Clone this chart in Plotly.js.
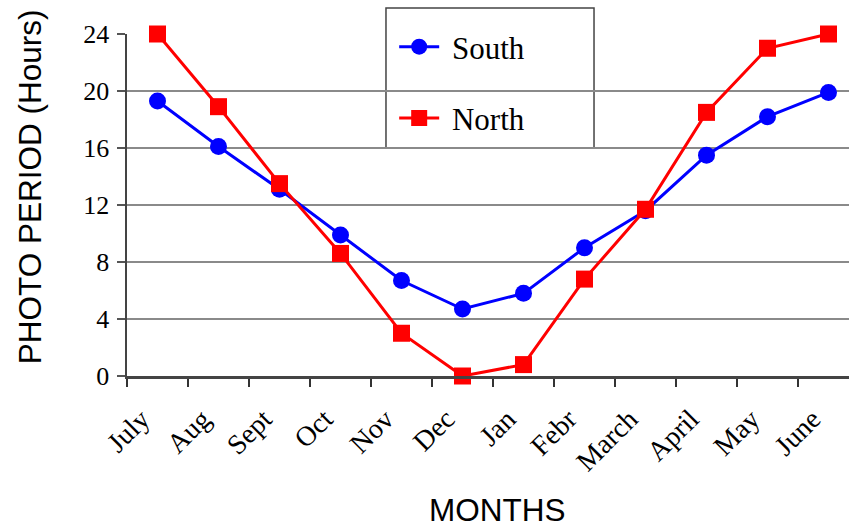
<!DOCTYPE html>
<html>
<head>
<meta charset="utf-8">
<script src="https://cdn.plot.ly/plotly-3.0.1.min.js"></script>
<style>
html,body{margin:0;padding:0;overflow:hidden;background:#fff;width:849px;height:530px;}
#chart{width:859px;height:530px;}
</style>
</head>
<body>
<div id="chart"></div>
<script>
const months = ["July","Aug","Sept","Oct","Nov","Dec","Jan","Febr","March","April","May","June"];
const south = [19.3, 16.1, 13.1, 9.9, 6.7, 4.7, 5.8, 9.0, 11.6, 15.5, 18.2, 19.9];
const north = [24.0, 18.9, 13.5, 8.6, 3.0, 0.0, 0.8, 6.8, 11.7, 18.5, 23.0, 24.0];
const yTicks = [0, 4, 8, 12, 16, 20, 24];
const seriesNames = ["South", "North"];
const xTitle = "MONTHS";
const yTitle = "PHOTO PERIOD (Hours)";

const serif = "Liberation Serif, Times New Roman, serif";
const sans = "Liberation Sans, Arial, sans-serif";

const traces = [
  {
    x: months, y: south, name: "\u00a0" + seriesNames[0], type: "scatter", mode: "lines+markers",
    legendgroup: "s",
    line: {color: "#0000ff", width: 3},
    marker: {symbol: "circle", size: 17, color: "#0000ff"},
    cliponaxis: false
  },
  {
    x: months, y: north, name: "\u00a0" + seriesNames[1], type: "scatter", mode: "lines+markers",
    legendgroup: "n",
    line: {color: "#ff0000", width: 3},
    marker: {symbol: "square", size: 17, color: "#ff0000"},
    cliponaxis: false
  }
];

const layout = {
  width: 859, height: 530,
  margin: {l: 127, r: 0, t: 34, b: 154},
  paper_bgcolor: "#fff", plot_bgcolor: "#fff",
  showlegend: true,
  legend: {
    x: 0.365, y: 1.041, xanchor: "left", yanchor: "top",
    bgcolor: "rgba(0,0,0,0)", borderwidth: 0,
    font: {family: serif, size: 31, color: "#000"},
    tracegroupgap: 28, itemwidth: 40
  },
  xaxis: {
    type: "category",
    range: [-0.5, 11.5],
    tickson: "boundaries",
    ticks: "outside", ticklen: 8, tickwidth: 1.5, tickcolor: "#333",
    showline: true, linecolor: "#444", linewidth: 2.5,
    showgrid: false, zeroline: false,
    tickangle: -45,
    ticklabelstandoff: 13,
    ticklabelshift: -16,
    tickfont: {family: serif, size: 28, color: "#000"}
  },
  yaxis: {
    range: [0, 24],
    tickvals: yTicks, ticktext: yTicks.map(String),
    ticks: "outside", ticklen: 8, tickwidth: 1.5, tickcolor: "#555",
    showline: true, linecolor: "#444", linewidth: 2.5,
    showgrid: true, gridcolor: "#8a8a8a", gridwidth: 1.5,
    zeroline: false,
    ticklabelstandoff: 2,
    tickfont: {family: serif, size: 26, color: "#000"}
  },
  annotations: [
    {text: yTitle, xref: "paper", yref: "paper", x: -0.1325, y: 0.552,
     xanchor: "center", yanchor: "middle", textangle: -90, showarrow: false,
     font: {family: sans, size: 31.5, color: "#000"}},
    {text: xTitle, xref: "paper", yref: "paper", x: 0.5055, y: -0.392,
     xanchor: "center", yanchor: "middle", showarrow: false,
     font: {family: sans, size: 31.5, color: "#000"}}
  ],
  shapes: [
    {type: "rect", xref: "paper", yref: "paper", x0: 0.3538, x1: 0.638, y0: 0.6667, y1: 1.076,
     line: {color: "#444", width: 1.5}, fillcolor: "#fff", layer: "below"}
  ]
};

Plotly.newPlot("chart", traces, layout, {displayModeBar: false, staticPlot: true});
</script>
</body>
</html>
